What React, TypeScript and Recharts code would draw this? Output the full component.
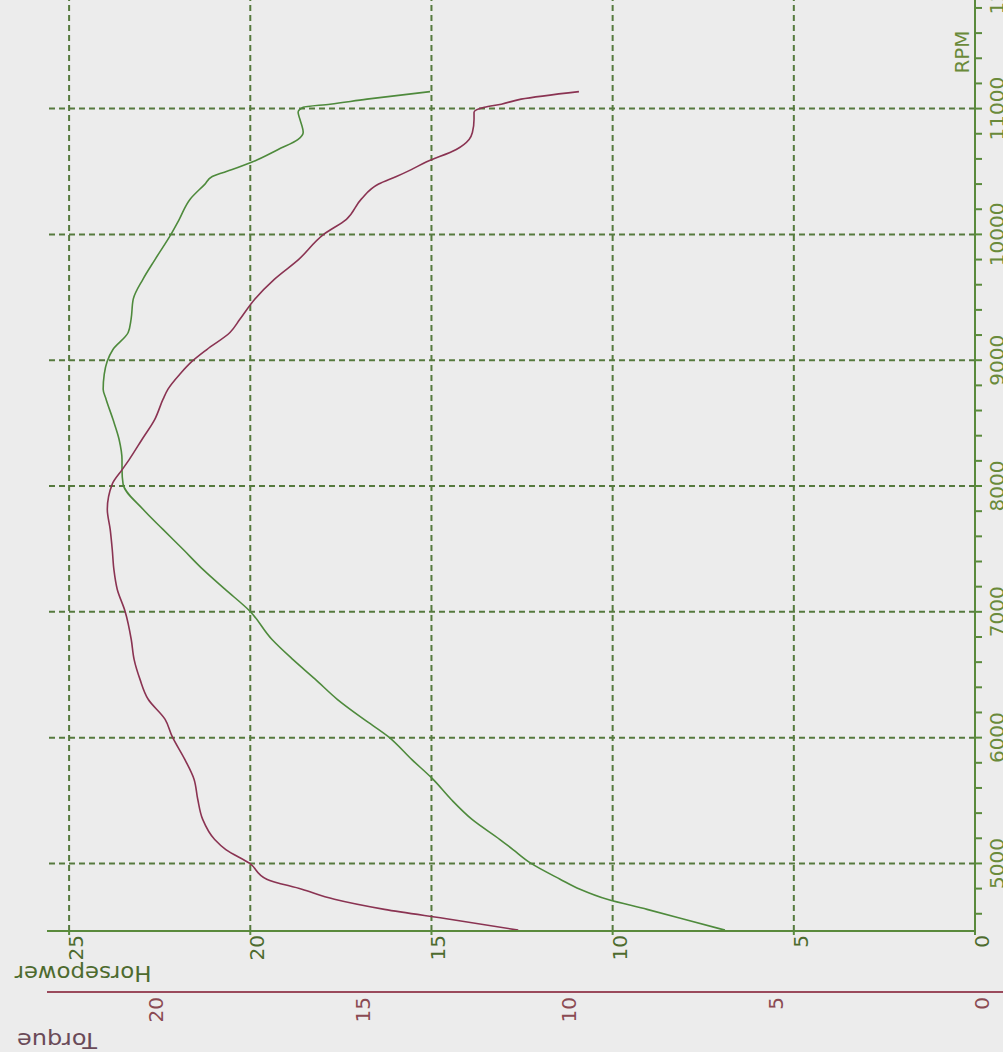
import React from 'react';
import { LineChart, Line, XAxis, YAxis, ReferenceLine, Label } from 'recharts';

const rpm = [4470, 4555, 4635, 4715, 4795, 4875, 5000, 5110, 5190, 5350, 5510, 5670, 5825, 6010, 6145, 6305, 6465, 6620, 6780, 7005, 7180, 7335, 7495, 7655, 7815, 8015, 8130, 8210, 8370, 8530, 8690, 8770, 8890, 8990, 9085, 9220, 9325, 9485, 9645, 9800, 10000, 10120, 10280, 10400, 10460, 10515, 10575, 10675, 10755, 10810, 10915, 10970, 11010, 11035, 11075, 11135];

const horsepower = [6.90, 8.00, 9.05, 10.15, 10.90, 11.45, 12.25, 12.75, 13.11, 13.88, 14.46, 14.96, 15.54, 16.20, 16.86, 17.60, 18.21, 18.82, 19.40, 20.01, 20.70, 21.30, 21.85, 22.41, 22.96, 23.51, 23.54, 23.54, 23.62, 23.79, 23.98, 24.06, 24.03, 23.95, 23.79, 23.37, 23.29, 23.23, 22.96, 22.63, 22.19, 21.96, 21.66, 21.25, 21.05, 20.50, 19.95, 19.23, 18.68, 18.54, 18.63, 18.68, 18.54, 17.80, 16.78, 15.04];

const torque = [11.06, 12.68, 14.30, 15.51, 16.30, 17.15, 17.56, 18.14, 18.41, 18.70, 18.82, 18.91, 19.13, 19.44, 19.61, 20.02, 20.22, 20.36, 20.43, 20.58, 20.77, 20.85, 20.89, 20.94, 21.01, 20.89, 20.65, 20.48, 20.17, 19.86, 19.66, 19.54, 19.25, 18.96, 18.60, 18.04, 17.80, 17.44, 16.96, 16.38, 15.77, 15.22, 14.86, 14.44, 14.01, 13.65, 13.29, 12.56, 12.25, 12.17, 12.13, 12.13, 11.88, 11.47, 10.99, 9.59];

const hpTicks = [0, 5, 10, 15, 20, 25];
const torqueTicks = [0, 5, 10, 15, 20];
const rpmTicks = [4600, 4800, 5000, 5200, 5400, 5600, 5800, 6000, 6200, 6400, 6600, 6800, 7000, 7200, 7400, 7600, 7800, 8000, 8200, 8400, 8600, 8800, 9000, 9200, 9400, 9600, 9800, 10000, 10200, 10400, 10600, 10800, 11000, 11200, 11400, 11600, 11800, 12000];
const rpmGrid = [5000, 6000, 7000, 8000, 9000, 10000, 11000, 12000];
const hpGrid = [5, 10, 15, 20, 25];

const data = rpm.map((r, i) => ({ rpm: r, hp: horsepower[i], tq: torque[i] }));

const BG = '#ececec';
const GRID = '#567a3e';
const HP_COLOR = '#4e8a3c';
const TQ_COLOR = '#8a3352';
const HP_AXIS = '#5a8a3c';
const TQ_AXIS = '#9a4a5c';
const FONT = 'DejaVu Sans, Verdana, sans-serif';

const HpTick = (props: any) => {
  const { x, y, payload } = props;
  return (
    <text transform={`translate(${x + 14},${y}) rotate(-90)`} textAnchor="end" fill="#4d6b2e" fontSize={20} fontFamily={FONT}>
      {payload.value}
    </text>
  );
};

const TqTick = (props: any) => {
  const { x, y, payload } = props;
  return (
    <text transform={`translate(${x + 14},${y}) rotate(-90)`} textAnchor="end" fill="#8a4a52" fontSize={20} fontFamily={FONT}>
      {payload.value}
    </text>
  );
};

const RpmTick = (props: any) => {
  const { x, y, payload } = props;
  if (payload.value % 1000 !== 0) return <g />;
  return (
    <text transform={`translate(${x + 22},${y}) rotate(-90)`} textAnchor="middle" fill="#6a8a3a" fontSize={20} fontFamily={FONT}>
      {payload.value}
    </text>
  );
};

const HpTitle = (props: any) => {
  const vb = props.viewBox;
  const cx = vb.x + 36;
  const cy = vb.y + 42;
  return (
    <text x={cx} y={cy} transform={`rotate(180 ${cx} ${cy})`} textAnchor="middle" dominantBaseline="central" fill="#4d6a2e" fontSize={21} fontFamily={FONT} textLength={137} lengthAdjust="spacingAndGlyphs">
      Horsepower
    </text>
  );
};

const TqTitle = (props: any) => {
  const vb = props.viewBox;
  const cx = vb.x + 10;
  const cy = vb.y + 48;
  return (
    <g>
      <line x1={vb.x + vb.width} y1={vb.y} x2={vb.x + vb.width + 70} y2={vb.y} stroke={TQ_AXIS} strokeWidth={2} />
      <text x={cx} y={cy} transform={`rotate(180 ${cx} ${cy})`} textAnchor="middle" dominantBaseline="central" fill="#6a4a58" fontSize={21} fontFamily={FONT} textLength={80} lengthAdjust="spacingAndGlyphs">
        Torque
      </text>
    </g>
  );
};

const RpmTitle = (props: any) => {
  const vb = props.viewBox;
  const bx = vb.x - 6;
  const cy = vb.y + 94;
  return (
    <text x={bx} y={cy} transform={`rotate(-90 ${bx} ${cy})`} textAnchor="middle" fill="#6a8a3a" fontSize={20} fontFamily={FONT}>
      RPM
    </text>
  );
};

export default function App() {
  return (
    <div style={{ position: 'absolute', left: 0, top: 0, width: 1003, height: 1052, overflow: 'hidden', background: BG }}>
      <div style={{ position: 'absolute', left: 0, top: -60 }}>
        <LineChart
          width={1040}
          height={1112}
          data={data}
          layout="vertical"
          margin={{ top: 18, right: 0, left: 47, bottom: 0 }}
        >
          <XAxis
            xAxisId="hp"
            type="number"
            domain={[0, 25.61]}
            allowDataOverflow
            reversed
            ticks={hpTicks}
            interval={0}
            orientation="bottom"
            height={61}
            tickSize={4}
            tickMargin={0}
            stroke={HP_AXIS}
            strokeWidth={2}
            tick={<HpTick />}
          >
            <Label content={HpTitle} />
          </XAxis>
          <XAxis
            xAxisId="tq"
            type="number"
            domain={[0, 22.47]}
            allowDataOverflow
            reversed
            ticks={torqueTicks}
            interval={0}
            orientation="bottom"
            height={60}
            tickSize={5}
            tickMargin={0}
            tickLine={false}
            stroke={TQ_AXIS}
            strokeWidth={2}
            tick={<TqTick />}
          >
            <Label content={TqTitle} />
          </XAxis>
          <YAxis
            yAxisId="rpm"
            dataKey="rpm"
            type="number"
            domain={[4463, 12197]}
            allowDataOverflow
            orientation="right"
            reversed
            width={65}
            ticks={rpmTicks}
            interval={0}
            tickSize={7}
            tickMargin={0}
            stroke={HP_AXIS}
            strokeWidth={2}
            tick={<RpmTick />}
          >
            <Label content={RpmTitle} />
          </YAxis>
          {rpmGrid.map((v) => (
            <ReferenceLine key={`r${v}`} y={v} xAxisId="hp" yAxisId="rpm" stroke={GRID} strokeWidth={2} strokeDasharray="6 4" ifOverflow="hidden" />
          ))}
          {hpGrid.map((v) => (
            <ReferenceLine key={`h${v}`} x={v} xAxisId="hp" yAxisId="rpm" stroke={GRID} strokeWidth={2} strokeDasharray="6 4" />
          ))}
          <Line xAxisId="hp" yAxisId="rpm" dataKey="hp" stroke={HP_COLOR} strokeWidth={1.6} dot={false} isAnimationActive={false} type="monotone" />
          <Line xAxisId="tq" yAxisId="rpm" dataKey="tq" stroke={TQ_COLOR} strokeWidth={1.6} dot={false} isAnimationActive={false} type="monotone" />
        </LineChart>
      </div>
    </div>
  );
}
